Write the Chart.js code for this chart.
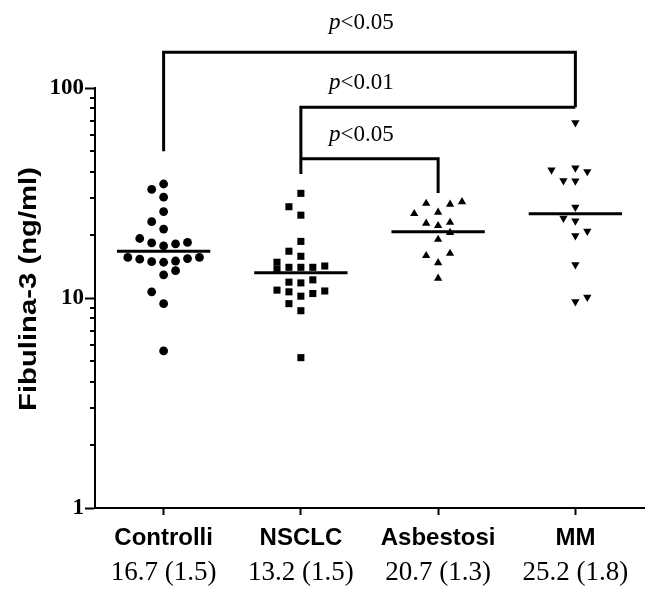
<!DOCTYPE html>
<html>
<head>
<meta charset="utf-8">
<script src="https://cdn.jsdelivr.net/npm/chart.js@4.4.1/dist/chart.umd.min.js"></script>
<style>
  html, body { margin: 0; padding: 0; background: #fff; }
  #wrap { width: 649px; height: 594px; }
</style>
</head>
<body>
<div id="wrap"><canvas id="c" width="649" height="594"></canvas></div>
<script>
// Groups and their summary statistics (geometric mean, spread)
const groups  = ['Controlli', 'NSCLC', 'Asbestosi', 'MM'];
const means   = [16.7, 13.2, 20.7, 25.2];
const spreads = [1.5, 1.5, 1.3, 1.8];

// Individual measurements (ng/ml) and the column each dot sits in inside its group
const controlliValues = [34.9, 32.9, 30.2, 25.8, 23.1, 21.3, 19.2, 18.3, 17.7, 18.1, 18.4,
                         15.6, 15.3, 14.9, 14.8, 15.0, 15.4, 15.6, 12.9, 13.5, 10.7, 9.4, 5.6];
const controlliCols   = [0, -1, 0, 0, -1, 0, -2, -1, 0, 1, 2,
                         -3, -2, -1, 0, 1, 2, 3, 0, 1, -1, 0, 0];

const nsclcValues = [31.5, 27.2, 24.8, 18.6, 16.7, 15.8, 14.8, 13.7, 14.0, 14.0, 14.0, 14.2,
                     11.9, 11.8, 12.2, 10.9, 10.7, 10.2, 10.5, 10.8, 9.4, 8.7, 5.2];
const nsclcCols   = [0, -1, 0, 0, -1, 0, -2, -2, -1, 0, 1, 2,
                     -1, 0, 1, -2, -1, 0, 1, 2, -1, 0, 0];

const asbestosiValues = [28.2, 27.9, 28.7, 25.2, 25.6, 22.7, 22.1, 22.9, 20.5, 19.0, 15.9, 16.3, 14.7, 12.4];
const asbestosiCols   = [-1, 1, 2, -2, 0, -1, 0, 1, 1, 0, -1, 1, 0, 0];

const mmValues = [68.4, 40.7, 41.6, 40.0, 36.2, 36.1, 27.1, 24.0, 23.3, 19.8, 20.8, 14.4, 9.6, 10.1];
const mmCols   = [0, -2, 0, 1, -1, 0, 0, -1, 0, 0, 1, 0, 0, 1];

// Labelled decades on the y axis
const yTickLabels = [1, 10, 100];
const yTitle = 'Fibulina-3 (ng/ml)';

// Significance brackets: span between groups, bar level and leg ends (ng/ml)
const brackets = [
  { from: 0, to: 3, level: 148, leftEnd: 50, rightEnd: 81, p: '<0.05', lift: 29 },
  { from: 1, to: 3, level: 81,  leftEnd: 39, rightEnd: 81, p: '<0.01', lift: 24 },
  { from: 1, to: 2, level: 46,  leftEnd: 46, rightEnd: 31.6, p: '<0.05', lift: 24 }
];

const COL_STEP = 0.087;   // dot column spacing, in category units
const MEAN_HALF = 0.34;   // half width of the mean bar, in category units

const valueSets = [controlliValues, nsclcValues, asbestosiValues, mmValues];
const colSets   = [controlliCols, nsclcCols, asbestosiCols, mmCols];
const styles    = [
  { pointStyle: 'circle',   radius: 4.4, rotation: 0 },
  { pointStyle: 'rect',     radius: 5.0, rotation: 0 },
  { pointStyle: 'triangle', radius: 4.8, rotation: 0 },
  { pointStyle: 'triangle', radius: 4.8, rotation: 180 }
];

const datasets = [];
groups.forEach((g, i) => {
  datasets.push({
    type: 'scatter',
    label: g,
    data: valueSets[i].map((v, k) => ({ x: i + colSets[i][k] * COL_STEP, y: v })),
    pointStyle: styles[i].pointStyle,
    pointRadius: styles[i].radius,
    rotation: styles[i].rotation,
    backgroundColor: '#000',
    borderColor: '#000',
    borderWidth: 0
  });
});
groups.forEach((g, i) => {
  datasets.push({
    type: 'line',
    label: g + ' media',
    data: [{ x: i - MEAN_HALF, y: means[i] }, { x: i + MEAN_HALF, y: means[i] }],
    borderColor: '#000',
    borderWidth: 3,
    pointRadius: 0,
    fill: false
  });
});

const categoryTicks = (scale) => { scale.ticks = groups.map((_, i) => ({ value: i })); };

// Minor ticks on the log axis, the axis title and the significance brackets
const decorations = {
  id: 'decorations',
  afterDraw(chart) {
    const ctx = chart.ctx;
    const xs = chart.scales.x, ys = chart.scales.y;
    ctx.save();
    ctx.strokeStyle = '#000';
    ctx.lineWidth = 2;
    ys.ticks.forEach(t => {
      if (yTickLabels.includes(t.value)) return;
      const py = Math.round(ys.getPixelForValue(t.value));
      ctx.beginPath();
      ctx.moveTo(chart.chartArea.left, py);
      ctx.lineTo(chart.chartArea.left - 5, py);
      ctx.stroke();
    });

    // vertical axis title, slightly widened lettering
    ctx.save();
    ctx.translate(29, (chart.chartArea.top + chart.chartArea.bottom) / 2 - 9);
    ctx.rotate(-Math.PI / 2);
    ctx.scale(1.22, 1);
    ctx.font = 'bold 24px "Liberation Sans", Arial, sans-serif';
    ctx.fillStyle = '#000';
    ctx.textAlign = 'center';
    ctx.textBaseline = 'middle';
    ctx.fillText(yTitle, 0, 0);
    ctx.restore();

    ctx.lineWidth = 3;
    ctx.lineJoin = 'miter';
    ctx.lineCap = 'butt';
    brackets.forEach(b => {
      const x0 = xs.getPixelForValue(b.from), x1 = xs.getPixelForValue(b.to);
      const yl = ys.getPixelForValue(b.level);
      ctx.beginPath();
      ctx.moveTo(x0, ys.getPixelForValue(b.leftEnd));
      ctx.lineTo(x0, yl);
      ctx.lineTo(x1, yl);
      ctx.lineTo(x1, ys.getPixelForValue(b.rightEnd));
      ctx.stroke();

      const cx = xs.getPixelForValue(1.44);
      const cy = yl - b.lift;
      ctx.fillStyle = '#000';
      ctx.textBaseline = 'middle';
      ctx.textAlign = 'left';
      const fItalic = 'italic 23px "Liberation Serif"';
      const fRegular = '23px "Liberation Serif"';
      ctx.font = fItalic;
      const wp = ctx.measureText('p').width;
      ctx.font = fRegular;
      const wr = ctx.measureText(b.p).width;
      const start = cx - (wp + wr) / 2;
      ctx.font = fItalic;
      ctx.fillText('p', start, cy);
      ctx.font = fRegular;
      ctx.fillText(b.p, start + wp, cy);
    });
    ctx.restore();
  }
};

new Chart(document.getElementById('c'), {
  type: 'scatter',
  data: { datasets },
  plugins: [decorations],
  options: {
    responsive: false,
    devicePixelRatio: 1,
    animation: false,
    layout: { padding: { left: 0, top: 88, right: 1, bottom: 0 } },
    plugins: { legend: { display: false }, tooltip: { enabled: false } },
    scales: {
      x: {
        type: 'linear',
        position: 'bottom',
        weight: 0,
        min: -0.5,
        max: 3.5,
        afterBuildTicks: categoryTicks,
        afterFit: (s) => { s.height = 46; },
        grid: { drawOnChartArea: false, drawTicks: true, tickLength: 7, tickColor: '#000', tickWidth: 2 },
        border: { display: true, color: '#000', width: 2 },
        ticks: {
          color: '#000',
          padding: 9,
          maxRotation: 0,
          autoSkip: false,
          font: { family: '"Liberation Sans", Arial, sans-serif', size: 24, weight: 'bold' },
          callback: (v) => groups[v]
        }
      },
      x2: {
        type: 'linear',
        position: 'bottom',
        weight: 1,
        min: -0.5,
        max: 3.5,
        afterBuildTicks: categoryTicks,
        afterFit: (s) => { s.height = 40; },
        grid: { display: false, drawTicks: false },
        border: { display: false },
        ticks: {
          color: '#000',
          padding: 3,
          maxRotation: 0,
          autoSkip: false,
          font: { family: '"Liberation Serif", "Times New Roman", serif', size: 27 },
          callback: (v) => means[v].toFixed(1) + ' (' + spreads[v].toFixed(1) + ')'
        }
      },
      y: {
        type: 'logarithmic',
        min: 1,
        max: 100,
        afterBuildTicks: (s) => {
          const t = [];
          for (let d = 1; d < 100; d *= 10) for (let k = 1; k < 10; k++) t.push({ value: k * d });
          t.push({ value: 100 });
          s.ticks = t;
        },
        afterFit: (s) => { s.width = 95; },
        grid: {
          drawOnChartArea: false,
          drawTicks: true,
          tickLength: 10,
          tickWidth: 2,
          tickColor: (c) => (c.tick && yTickLabels.includes(c.tick.value)) ? '#000' : 'rgba(0,0,0,0)'
        },
        border: { display: true, color: '#000', width: 2 },
        ticks: {
          color: '#000',
          padding: 1,
          autoSkip: false,
          font: { family: '"Liberation Serif", "Times New Roman", serif', size: 23, weight: 'bold' },
          callback: (v) => yTickLabels.includes(v) ? String(v) : ''
        }
      }
    }
  }
});
</script>
</body>
</html>
